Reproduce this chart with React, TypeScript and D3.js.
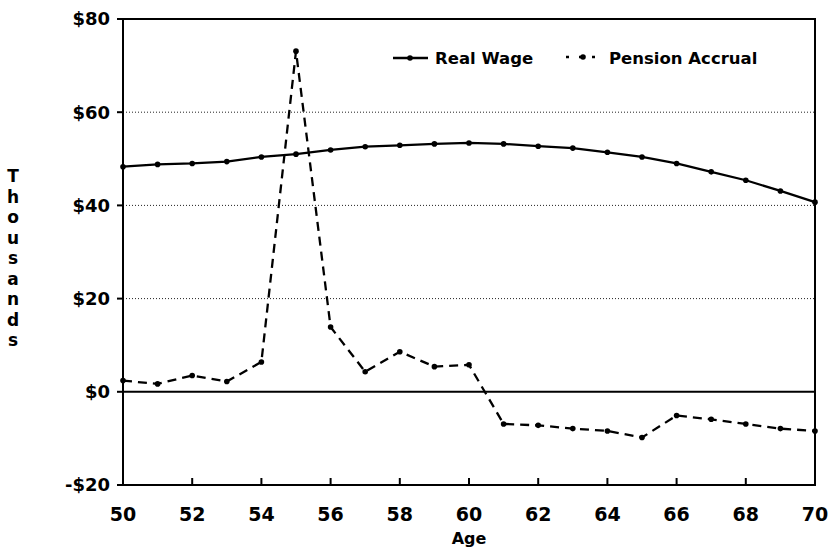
import * as d3 from "d3";

const ages = d3.range(50, 71);
const realWage = [
  48.3, 48.8, 49.0, 49.4, 50.4, 51.0, 51.9, 52.6, 52.9, 53.2, 53.4, 53.2, 52.7,
  52.3, 51.4, 50.4, 49.0, 47.2, 45.4, 43.1, 40.7,
];
const pensionAccrual = [
  2.4, 1.7, 3.5, 2.2, 6.4, 73.1, 13.9, 4.3, 8.6, 5.4, 5.8, -6.9, -7.2, -7.9,
  -8.4, -9.8, -5.1, -5.9, -6.9, -7.9, -8.4,
];
const xTicks = [50, 52, 54, 56, 58, 60, 62, 64, 66, 68, 70];
const yTicks = [-20, 0, 20, 40, 60, 80];
const gridValues = [20, 40, 60];

const W = 833;
const H = 556;
const left = 123;
const right = 815;
const top = 19;
const bottom = 485;
const font = "'DejaVu Sans', Verdana, sans-serif";

export default function App() {
  const x = d3.scaleLinear([50, 70], [left, right]);
  const y = d3.scaleLinear([-20, 80], [bottom, top]);
  const line = d3
    .line<number>()
    .x((_, i) => x(ages[i]))
    .y((d) => y(d));

  const fmt = (v: number) => (v < 0 ? `-$${Math.abs(v)}` : `$${v}`);

  return (
    <svg
      width={W}
      height={H}
      style={{ position: "absolute", left: 0, top: 0, background: "#fff" }}
    >
      {/* grid */}
      {gridValues.map((v) => (
        <line
          key={v}
          x1={left}
          x2={right}
          y1={y(v)}
          y2={y(v)}
          stroke="#222"
          strokeWidth={1}
          strokeDasharray="1 2"
        />
      ))}
      {/* zero line */}
      <line x1={left} x2={right} y1={y(0)} y2={y(0)} stroke="#000" strokeWidth={2} />
      {/* frame */}
      <rect
        x={left}
        y={top}
        width={right - left}
        height={bottom - top}
        fill="none"
        stroke="#000"
        strokeWidth={2}
      />
      {/* y ticks */}
      {yTicks.map((v) => (
        <g key={v}>
          <line x1={left - 6} x2={left} y1={y(v)} y2={y(v)} stroke="#000" strokeWidth={2} />
          <text
            x={left - 13}
            y={y(v)}
            dy="0.36em"
            textAnchor="end"
            fontFamily={font}
            fontWeight="bold"
            fontSize={18}
          >
            {fmt(v)}
          </text>
        </g>
      ))}
      {/* x ticks */}
      {xTicks.map((v) => (
        <g key={v}>
          <line x1={x(v)} x2={x(v)} y1={bottom} y2={bottom - 7} stroke="#000" strokeWidth={2} />
          <text
            x={x(v)}
            y={bottom + 36}
            textAnchor="middle"
            fontFamily={font}
            fontWeight="bold"
            fontSize={19}
          >
            {v}
          </text>
        </g>
      ))}
      <text
        x={(left + right) / 2}
        y={544}
        textAnchor="middle"
        fontFamily={font}
        fontWeight="bold"
        fontSize={16}
      >
        Age
      </text>
      {/* vertical stacked label */}
      <text fontFamily={font} fontWeight="bold" fontSize={17} textAnchor="middle">
        {"Thousands".split("").map((c, i) => (
          <tspan key={i} x={13} y={182 + i * 20.5}>
            {c}
          </tspan>
        ))}
      </text>

      {/* real wage */}
      <path d={line(realWage) ?? ""} fill="none" stroke="#000" strokeWidth={2.3} />
      {realWage.map((v, i) => (
        <circle key={i} cx={x(ages[i])} cy={y(v)} r={2.8} fill="#000" />
      ))}
      {/* pension accrual */}
      <path
        d={line(pensionAccrual) ?? ""}
        fill="none"
        stroke="#000"
        strokeWidth={2.3}
        strokeDasharray="9 6"
      />
      {pensionAccrual.map((v, i) => (
        <circle key={i} cx={x(ages[i])} cy={y(v)} r={2.8} fill="#000" />
      ))}

      {/* legend */}
      <g>
        <line x1={393} x2={428} y1={58} y2={58} stroke="#000" strokeWidth={2.3} />
        <circle cx={410} cy={58} r={2.8} fill="#000" />
        <text x={435} y={64} fontFamily={font} fontWeight="bold" fontSize={16.5}>
          Real Wage
        </text>
        <line
          x1={566}
          x2={603}
          y1={57}
          y2={57}
          stroke="#000"
          strokeWidth={2.3}
          strokeDasharray="3 10"
        />
        <circle cx={583} cy={57} r={2.8} fill="#000" />
        <text x={609} y={64} fontFamily={font} fontWeight="bold" fontSize={16.5}>
          Pension Accrual
        </text>
      </g>
    </svg>
  );
}
